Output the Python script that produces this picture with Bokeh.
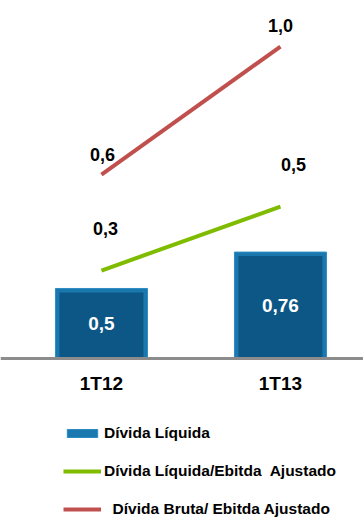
from bokeh.plotting import figure
from bokeh.models import Range1d, Span, Legend, LegendItem, ColumnDataSource
from bokeh.core.properties import value
from bokeh.embed import file_html
from bokeh.resources import INLINE

# ---- data ----
categories = ["1T12", "1T13"]
divida_liquida = [0.5, 0.76]
divida_liq_ebitda = [0.3, 0.5]
divida_bruta_ebitda = [0.6, 1.0]
bar_labels = ["0,5", "0,76"]
liq_ebitda_labels = ["0,3", "0,5"]
bruta_ebitda_labels = ["0,6", "1,0"]

# ---- styling ----
FONT_NAME = "Liberation Sans"
FONT = value(FONT_NAME)
W, H = 363, 518
X_PX = 179.0   # pixels per category step
Y_PX = 140.0   # pixels per bar unit
BAR_W = 0.514
BEVEL = 4      # pixels

x = list(range(len(categories)))

p = figure(width=W, height=H, output_backend="svg", toolbar_location=None,
           x_axis_location=None, y_axis_location=None, min_border=0,
           x_range=Range1d(-0.564, 1.464), y_range=Range1d(-1.143, 2.557),
           outline_line_color=None, background_fill_color="white",
           border_fill_color="white")
p.grid.visible = False
p.extra_y_ranges = {"ratio": Range1d(-0.475, 1.144)}

# bars (outer bevel + inner body)
src = ColumnDataSource(dict(x=x, top=divida_liquida, label=bar_labels,
                            mid=[v / 2 for v in divida_liquida],
                            inner_top=[v - BEVEL / Y_PX for v in divida_liquida]))
bars = p.vbar(x="x", top="top", bottom=0, width=BAR_W, source=src,
              fill_color="#1a78ae", line_color="#2b8cc4", line_width=1)
p.vbar(x="x", top="inner_top", bottom=0, width=BAR_W - 2 * BEVEL / X_PX, source=src,
       fill_color="#0c5786", line_color=None)
p.text(x="x", y="mid", text="label", source=src, text_color="white",
       text_font=FONT, text_font_style="bold", text_font_size="19px",
       text_align="center", text_baseline="middle")

# baseline
p.add_layout(Span(location=0, dimension="width", line_color="#8c8c8c", line_width=3))

# category labels
p.text(x=x, y=[0] * len(x), text=categories, y_offset=25, text_color="black",
       text_font=FONT, text_font_style="bold", text_font_size="19px",
       text_align="center", text_baseline="middle")

# lines
red = p.line(x, divida_bruta_ebitda, y_range_name="ratio", line_color="#c0504d",
             line_width=4)
green = p.line(x, divida_liq_ebitda, y_range_name="ratio", line_color="#7fbc00",
               line_width=4)

p.text(x=x, y=divida_bruta_ebitda, text=bruta_ebitda_labels, y_range_name="ratio",
       x_offset=[1, 0], y_offset=[-20, -21], text_color="black",
       text_font=FONT, text_font_style="bold", text_font_size="18px",
       text_align="center", text_baseline="middle")
p.text(x=x, y=divida_liq_ebitda, text=liq_ebitda_labels, y_range_name="ratio",
       x_offset=[4, 13], y_offset=[-42, -42], text_color="black",
       text_font=FONT, text_font_style="bold", text_font_size="18px",
       text_align="center", text_baseline="middle")

legend = Legend(items=[
    LegendItem(label="Dívida Líquida", renderers=[bars]),
    LegendItem(label="Dívida Líquida/Ebitda  Ajustado", renderers=[green]),
    LegendItem(label="  Dívida Bruta/ Ebitda Ajustado", renderers=[red]),
], location=(63, 0), padding=0, margin=0, spacing=20, glyph_width=38,
    glyph_height=10, label_height=18, label_standoff=3,
    border_line_color=None, background_fill_alpha=0,
    label_text_font=FONT_NAME, label_text_font_style="bold",
    label_text_font_size="15.5px", label_text_color="black")
p.add_layout(legend)

open("out.html", "w").write(file_html(p, INLINE))
